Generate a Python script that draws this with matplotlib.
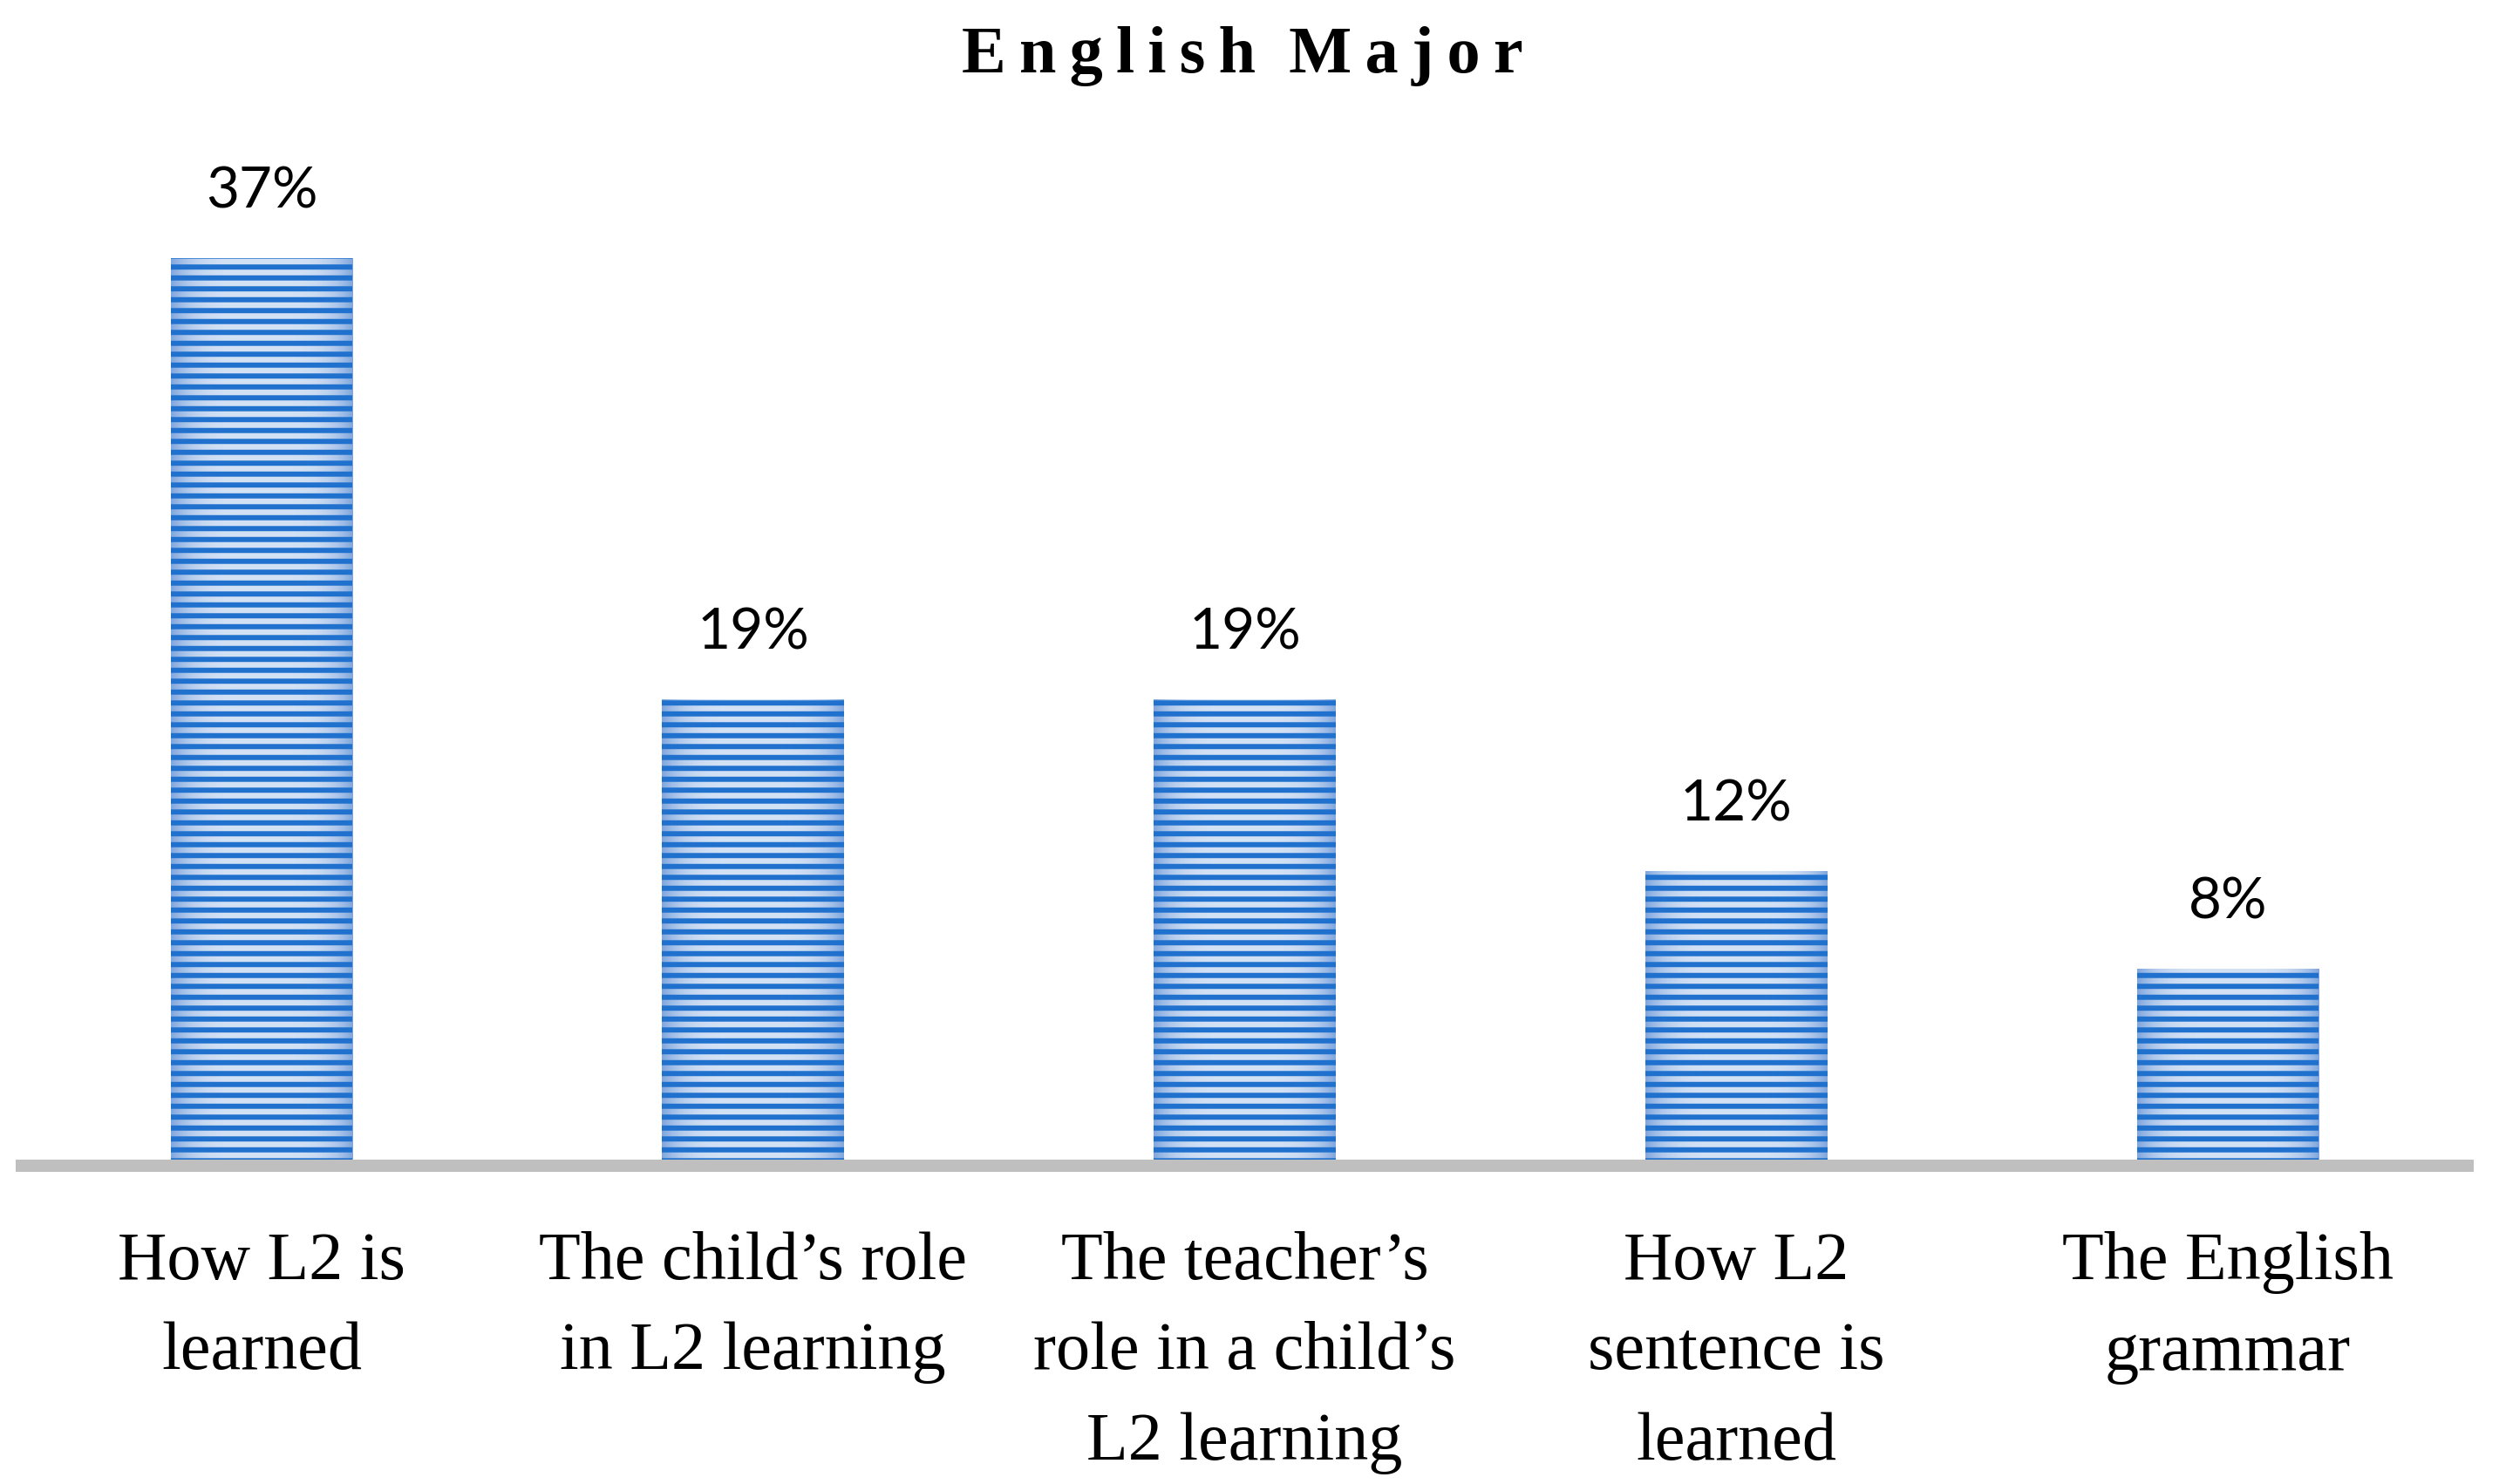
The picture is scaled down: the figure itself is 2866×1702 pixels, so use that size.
import matplotlib.pyplot as plt
import numpy as np
from matplotlib.colors import to_rgb

# data
categories = ['How L2 is\nlearned',
              'The child\u2019s role\nin L2 learning',
              'The teacher\u2019s\nrole in a child\u2019s\nL2 learning',
              'How L2\nsentence is\nlearned',
              'The English\ngrammar']
percent = [37, 19, 19, 12, 8]
title = 'English Major'

DARK = '#1F71CD'
LIGHT = '#D4E2F5'
EDGE = '#7FA6DE'
SERIF = ['Liberation Serif', 'DejaVu Serif']

plt.rcParams['hatch.linewidth'] = 1.9

DPI = 225
fig = plt.figure(figsize=(2866 / DPI, 1702 / DPI), dpi=DPI)
ax = fig.add_axes([0.0063, 0.21445, 0.9836, 0.661])

x = np.arange(len(percent))
bars = ax.bar(x, percent, width=0.37, facecolor='none', edgecolor=DARK,
              linewidth=0, hatch='---', zorder=2)

# light stripes: pale in the middle, bluer towards the bar edges
t = np.linspace(-1, 1, 200)
w = np.abs(t) ** 4
grad = (1 - w)[:, None] * np.array(to_rgb(LIGHT)) + w[:, None] * np.array(to_rgb(EDGE))
for b in bars:
    ax.imshow(grad[None, :, :], aspect='auto', interpolation='bilinear', zorder=1,
              extent=(b.get_x(), b.get_x() + b.get_width(), 0, b.get_height()))

for b, v in zip(bars, percent):
    ax.annotate(f'{v}%', (b.get_x() + b.get_width() / 2, v), xytext=(0, 18.6),
                textcoords='offset points', ha='center', va='baseline',
                fontsize=21, family='Lato', color='black')

ax.set_xlim(-0.5, len(percent) - 0.5)
ax.set_ylim(0, 40)
ax.set_yticks([])
ax.set_xticks(x, categories)
ax.tick_params(axis='x', length=0, pad=24, labelsize=25)
for lbl in ax.get_xticklabels():
    lbl.set_family(SERIF)
    lbl.set_linespacing(1.59)

for side in ['top', 'left', 'right']:
    ax.spines[side].set_visible(False)
ax.spines['bottom'].set_color('#BFBFBF')
ax.spines['bottom'].set_linewidth(4.5)
ax.spines['bottom'].set_capstyle('butt')
ax.spines['bottom'].set_zorder(3)

spaced = '  '.join('\u2009'.join(word) for word in title.split())
fig.text(0.4972, 1 - 83 / 1702, spaced, ha='center', va='baseline',
         fontsize=24.4, fontweight='bold', family=SERIF)

fig.savefig('out.png', dpi=DPI)
